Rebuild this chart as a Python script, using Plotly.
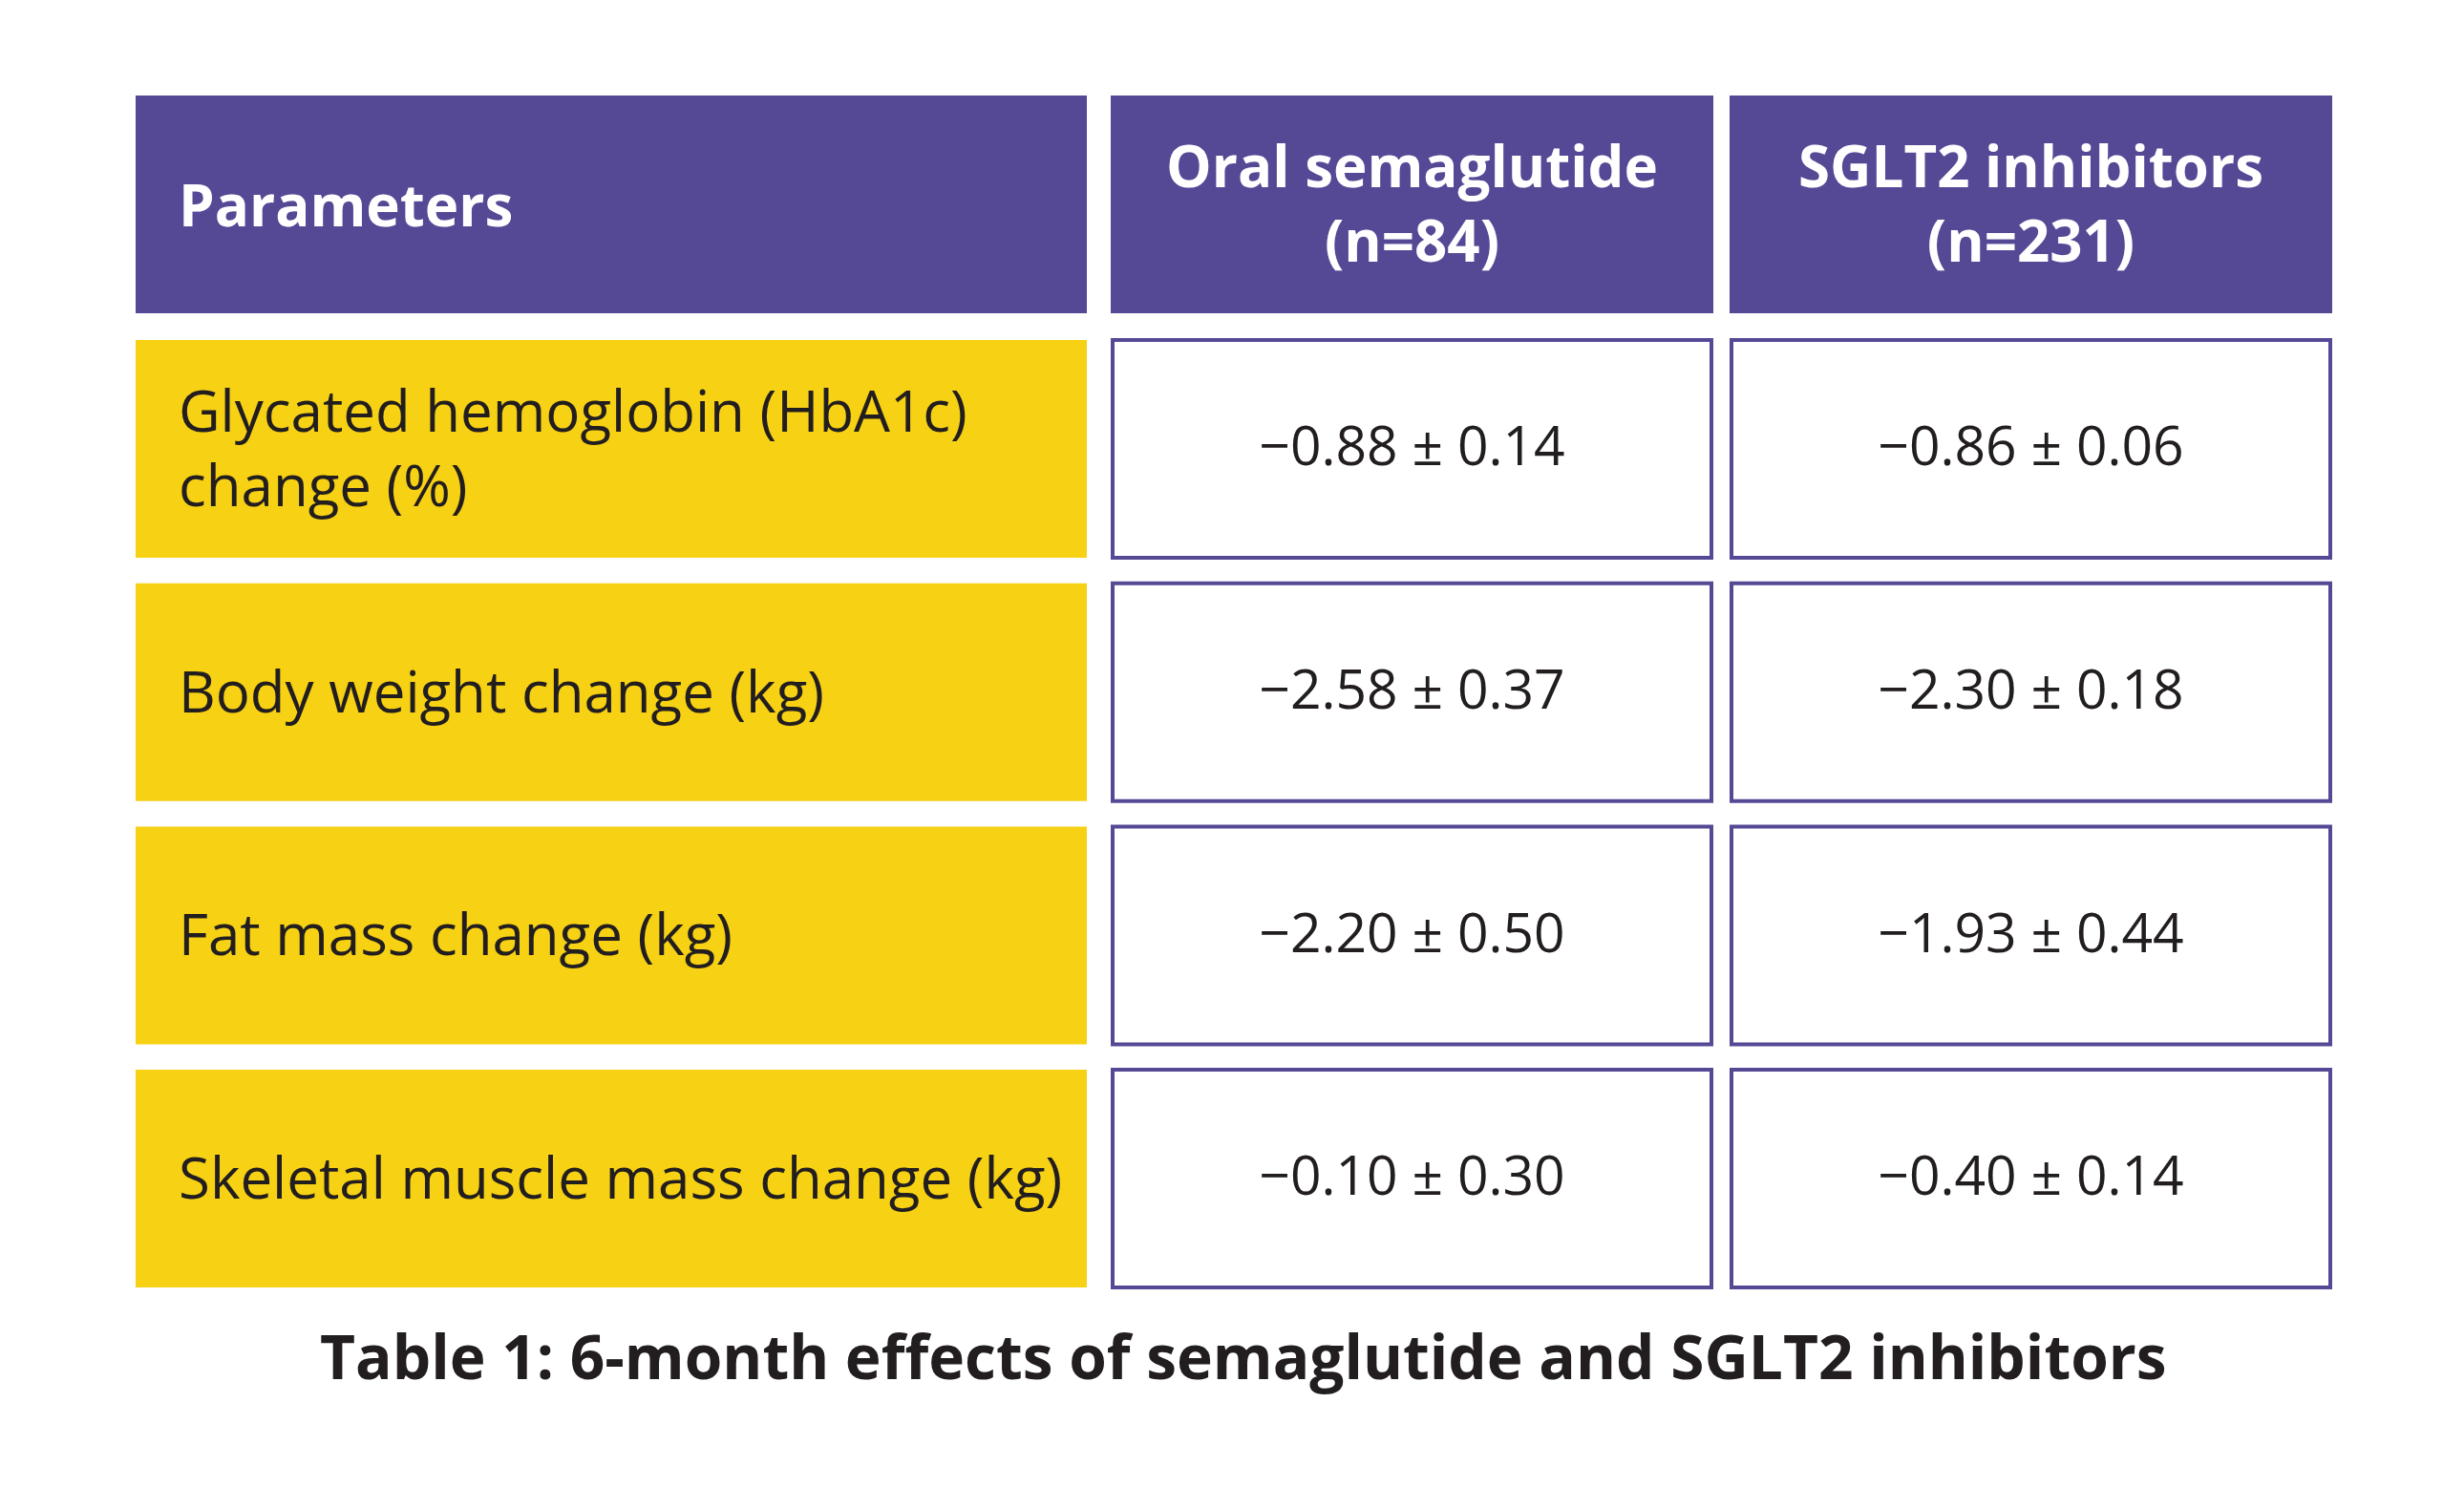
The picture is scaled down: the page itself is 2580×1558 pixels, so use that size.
import plotly.graph_objects as go

# ---------------- data ----------------
header_labels = ["Parameters", "Oral semaglutide<br>(n=84)", "SGLT2 inhibitors<br>(n=231)"]
parameters = [
    "Glycated hemoglobin (HbA1c)<br>change (%)",
    "Body weight change (kg)",
    "Fat mass change (kg)",
    "Skeletal muscle mass change (kg)",
]
sema_mean = [-0.88, -2.58, -2.20, -0.10]
sema_sd = [0.14, 0.37, 0.50, 0.30]
sglt2_mean = [-0.86, -2.30, -1.93, -0.40]
sglt2_sd = [0.06, 0.18, 0.44, 0.14]
caption = "Table 1: 6-month effects of semaglutide and SGLT2 inhibitors"

# ---------------- layout constants ----------------
W, H = 2580, 1558
OFF = 8  # default page body margin
PURPLE = "#554996"
YELLOW = "#F7D113"
DARK = "#221E1F"
FONT = "Open Sans"

col_left = [142, 1163, 1811]
col_right = [1138, 1794, 2442]
header_top, header_bot = 100, 328
row_top0, row_pitch, row_h = 354, 254.7, 232
label_pad = 43
line_w = 4


def fmt(m, s):
    ms = f"{abs(m):.2f}"
    sign = "\u2212" if m < 0 else ""
    return f"{sign}{ms} \u00b1 {s:.2f}"


value_cols = [
    [fmt(m, s) for m, s in zip(sema_mean, sema_sd)],
    [fmt(m, s) for m, s in zip(sglt2_mean, sglt2_sd)],
]

shapes = []
annotations = []

# header row
for c, lab in enumerate(header_labels):
    shapes.append(dict(type="rect", xref="x", yref="y",
                       x0=col_left[c], x1=col_right[c], y0=header_top, y1=header_bot,
                       fillcolor=PURPLE, line=dict(width=0), layer="below"))
    if c == 0:
        annotations.append(dict(x=col_left[c] + label_pad, y=(header_top + header_bot) / 2,
                                xref="x", yref="y", text=lab, showarrow=False,
                                xanchor="left", yanchor="middle", align="left",
                                font=dict(family=FONT, size=60, color="white", weight=700)))
    else:
        annotations.append(dict(x=(col_left[c] + col_right[c]) / 2, y=(header_top + header_bot) / 2 - 2,
                                xref="x", yref="y", text=lab, showarrow=False,
                                xanchor="center", yanchor="middle", align="center",
                                font=dict(family=FONT, size=60, color="white", weight=700)))

# body rows
val_x, val_y, val_text = [], [], []
for r, p in enumerate(parameters):
    t = row_top0 + r * row_pitch
    b = t + row_h
    shapes.append(dict(type="rect", xref="x", yref="y",
                       x0=col_left[0], x1=col_right[0], y0=t + 2, y1=b - 2,
                       fillcolor=YELLOW, line=dict(width=0), layer="below"))
    annotations.append(dict(x=col_left[0] + label_pad, y=(t + b) / 2 - 2,
                            xref="x", yref="y", text=p, showarrow=False,
                            xanchor="left", yanchor="middle", align="left",
                            font=dict(family=FONT, size=60, color=DARK)))
    for c in (1, 2):
        shapes.append(dict(type="rect", xref="x", yref="y",
                           x0=col_left[c] + line_w / 2, x1=col_right[c] - line_w / 2,
                           y0=t + line_w / 2, y1=b - line_w / 2,
                           fillcolor="white", line=dict(width=line_w, color=PURPLE),
                           layer="below"))
        val_x.append((col_left[c] + col_right[c]) / 2)
        val_y.append((t + b) / 2 + 3)
        val_text.append(value_cols[c - 1][r])

fig = go.Figure()
fig.add_trace(go.Scatter(x=val_x, y=val_y, text=val_text, mode="text",
                         textposition="middle center",
                         textfont=dict(family=FONT, size=57, color=DARK),
                         hoverinfo="skip", showlegend=False))

annotations.append(dict(x=1302, y=1419, xref="x", yref="y", text=caption, showarrow=False,
                        xanchor="center", yanchor="middle",
                        font=dict(family=FONT, size=64, color=DARK, weight=700)))

fig.update_layout(
    width=W - 2 * OFF, height=H - 2 * OFF,
    margin=dict(l=0, r=0, t=0, b=0),
    paper_bgcolor="white", plot_bgcolor="white",
    xaxis=dict(range=[OFF, W - OFF], visible=False, fixedrange=True),
    yaxis=dict(range=[H - OFF, OFF], visible=False, fixedrange=True),
    shapes=shapes, annotations=annotations,
    showlegend=False,
)

fig.write_html("out.html")
